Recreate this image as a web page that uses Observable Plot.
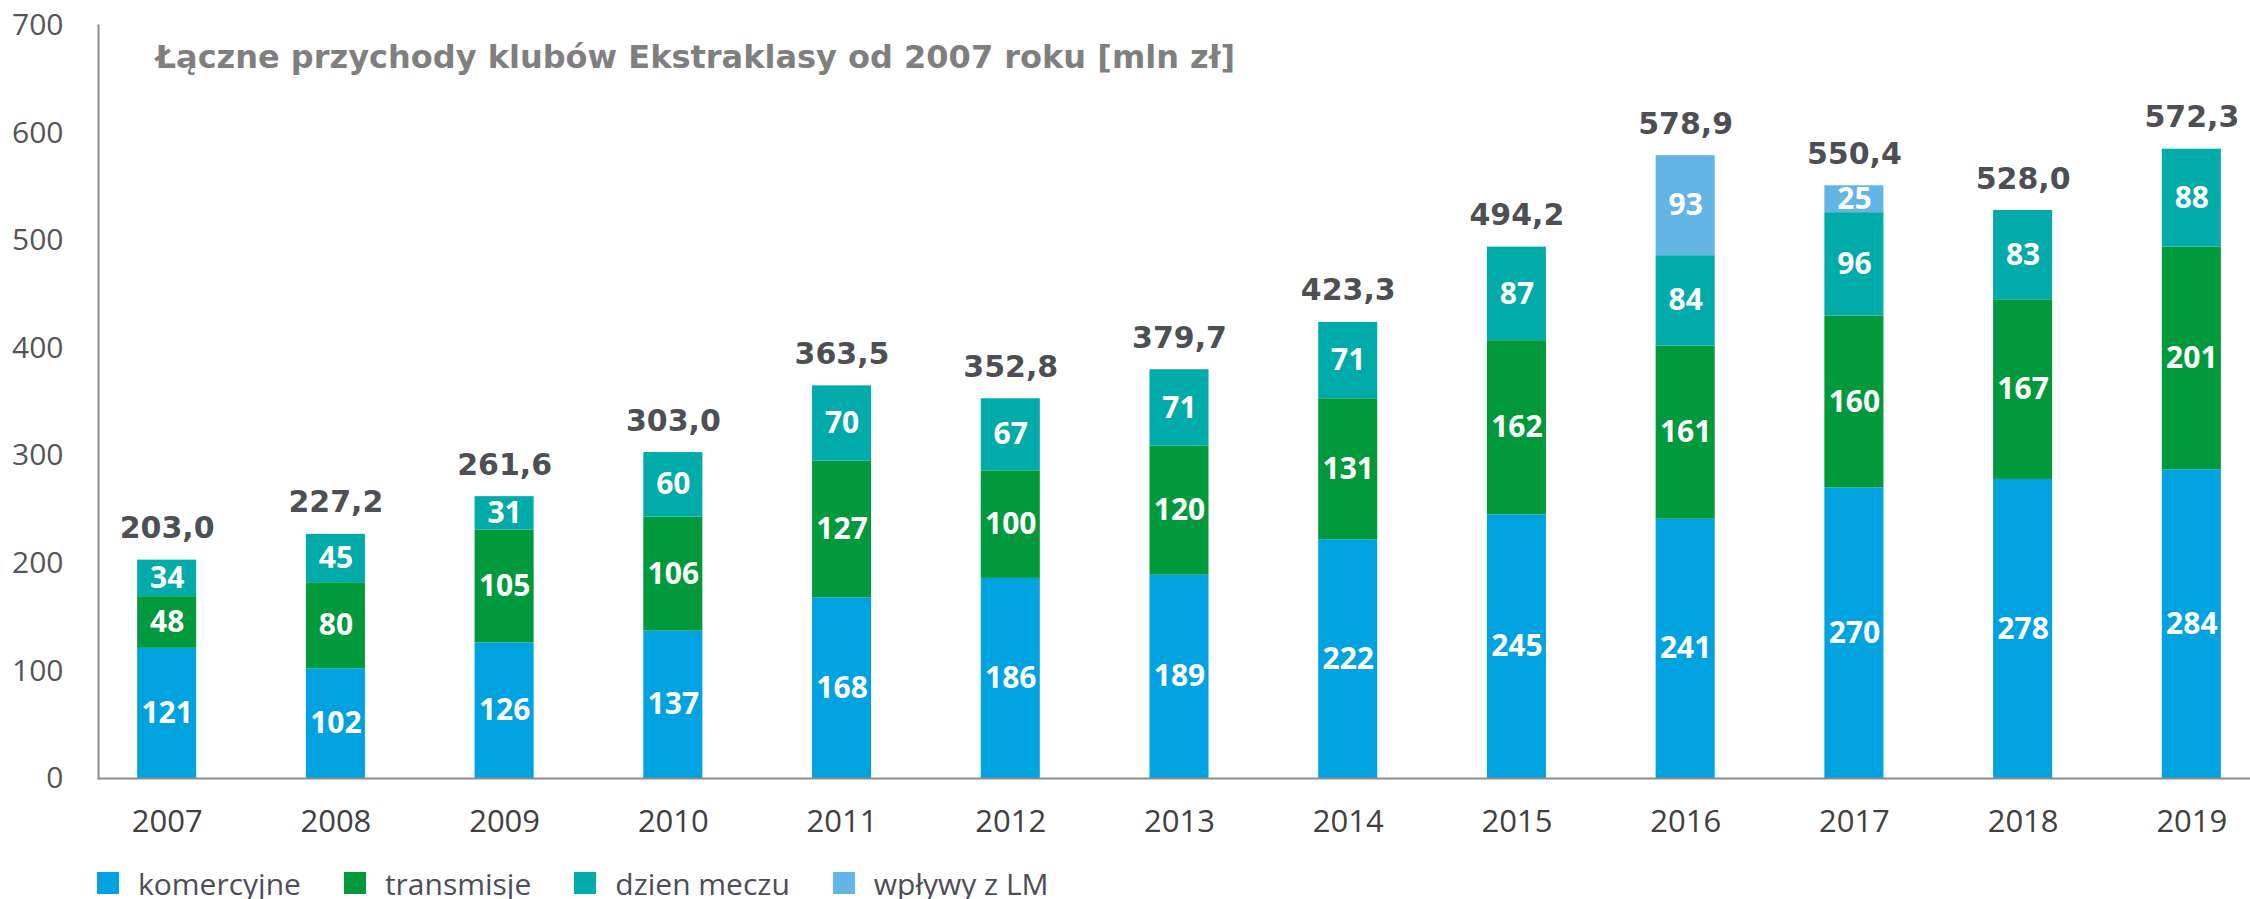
<!DOCTYPE html>
<html>
<head>
<meta charset="utf-8">
<script src="https://cdn.jsdelivr.net/npm/d3@7"></script>
<script src="https://cdn.jsdelivr.net/npm/@observablehq/plot@0.6"></script>
<style>
  body { margin: 0; background: #fff; }
  #legend { display: flex; align-items: center; height: 46px; padding-left: 97px;
            font-family: "Open Sans"; font-size: 30px; color: #4d4d57; }
  .item { display: flex; align-items: center; margin-right: 43px; }
  .sw { width: 22px; height: 22px; margin-right: 19px; }
</style>
</head>
<body>
<div id="chart"></div>
<div id="legend"></div>
<script>
const title = "Łączne przychody klubów Ekstraklasy od 2007 roku [mln zł]";
const years = ["2007","2008","2009","2010","2011","2012","2013","2014","2015","2016","2017","2018","2019"];
const seriesNames = ["komercyjne", "transmisje", "dzien meczu", "wpływy z LM"];
const seriesColors = ["#00a3e0", "#009a3d", "#00aba9", "#62b5e5"];

// bar heights as drawn
const komercyjne = [121, 102, 126, 137, 168, 186, 189, 222, 245, 241, 270, 278, 287];
const transmisje = [48, 80, 105, 106, 127, 100, 120, 131, 162, 161, 160, 167, 207];
const dzienMeczu = [34, 45, 31, 60, 70, 67, 71, 71, 87, 84, 96, 83, 91];
const wplywyLM   = [0, 0, 0, 0, 0, 0, 0, 0, 0, 93, 25, 0, 0];

// printed labels
const komercyjneLabels = ["121","102","126","137","168","186","189","222","245","241","270","278","284"];
const transmisjeLabels = ["48","80","105","106","127","100","120","131","162","161","160","167","201"];
const dzienMeczuLabels = ["34","45","31","60","70","67","71","71","87","84","96","83","88"];
const wplywyLMLabels   = ["","","","","","","","","","93","25","",""];
const totalLabels = ["203,0","227,2","261,6","303,0","363,5","352,8","379,7","423,3","494,2","578,9","550,4","528,0","572,3"];

const yTicks = [0, 100, 200, 300, 400, 500, 600, 700];

const valuesBySeries = [komercyjne, transmisje, dzienMeczu, wplywyLM];
const labelsBySeries = [komercyjneLabels, transmisjeLabels, dzienMeczuLabels, wplywyLMLabels];

const rows = [];
seriesNames.forEach((s, si) => years.forEach((yr, i) => {
  const v = valuesBySeries[si][i];
  if (v > 0) rows.push({year: yr, series: s, value: v, label: labelsBySeries[si][i]});
}));
const totals = years.map((yr, i) => ({
  year: yr,
  total: d3.sum(valuesBySeries, a => a[i]),
  label: totalLabels[i]
}));

const chart = Plot.plot({
  width: 2250,
  height: 860,
  marginLeft: 98,
  marginRight: 0,
  marginTop: 25,
  marginBottom: 82,
  style: {fontFamily: "Open Sans", background: "#fff"},
  x: {domain: years, range: [98, 2260], paddingInner: 0.65, paddingOuter: 0.232, align: 0.5, round: false},
  y: {domain: [0, 700]},
  color: {domain: seriesNames, range: seriesColors},
  marks: [
    Plot.barY(rows, Plot.stackY({x: "year", y: "value", fill: "series"})),
    Plot.text(rows, Plot.stackY({x: "year", y: "value", text: "label", fill: "white",
      fontFamily: "Open Sans", fontWeight: 700, fontSize: 30})),
    Plot.text(totals, {x: "year", y: "total", text: "label", lineAnchor: "bottom", dy: -22,
      fill: "#4d4f54", fontFamily: "DejaVu Sans", fontWeight: "bold", fontSize: 30}),
    Plot.axisY({ticks: yTicks, tickSize: 0, tickPadding: 35, fontSize: 30, fill: "#555", label: null}),
    Plot.axisX({tickSize: 0, tickPadding: 31, fontSize: 31, fill: "#404040", label: null}),
    Plot.ruleY([0], {stroke: "#8c8c8c", strokeWidth: 2}),
    Plot.frame({anchor: "left", stroke: "#8c8c8c", strokeWidth: 2}),
    Plot.text([title], {frameAnchor: "top-left", text: d => d, dx: 57, dy: 32,
      textAnchor: "start", lineAnchor: "middle", fontFamily: "DejaVu Sans", fontWeight: "bold",
      fontSize: 32, fill: "#7f7f7f"})
  ]
});
document.getElementById("chart").appendChild(chart);

const legend = document.getElementById("legend");
seriesNames.forEach((s, i) => {
  const item = document.createElement("div");
  item.className = "item";
  const sw = document.createElement("div");
  sw.className = "sw";
  sw.style.background = seriesColors[i];
  const t = document.createElement("span");
  t.textContent = s;
  item.appendChild(sw);
  item.appendChild(t);
  legend.appendChild(item);
});
</script>
</body>
</html>
